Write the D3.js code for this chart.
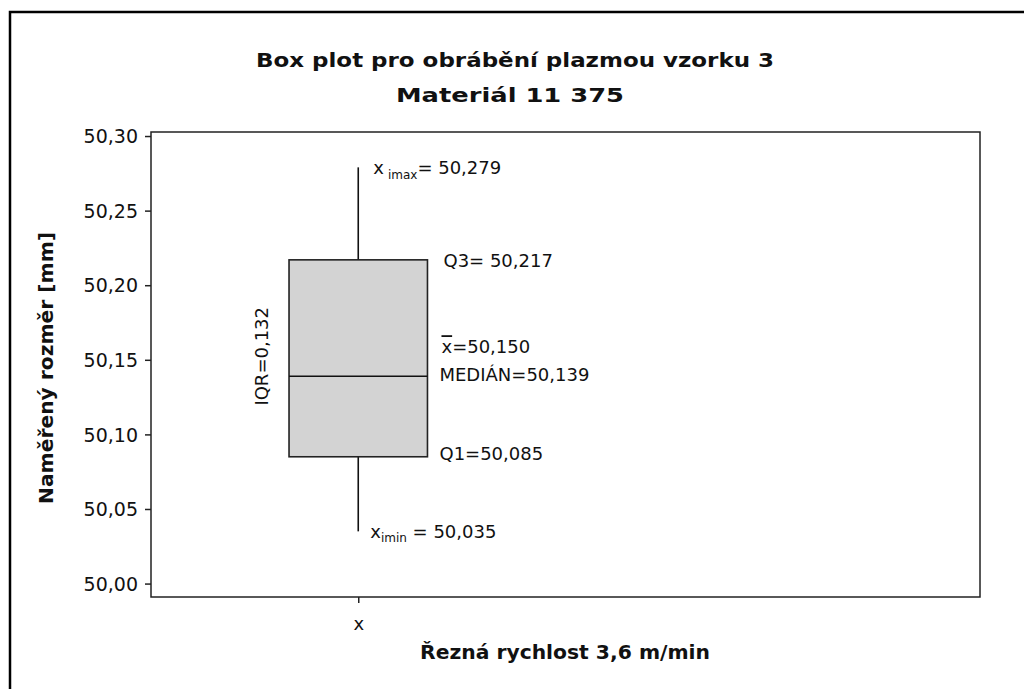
<!DOCTYPE html>
<html>
<head>
<meta charset="utf-8">
<style>
  body { margin: 0; background: #fff; }
  svg text { font-family: "DejaVu Sans", Tahoma, sans-serif; fill: #111; }
</style>
<script src="https://d3js.org/d3.v7.min.js"></script>
</head>
<body>
<svg id="chart" width="1024" height="689"></svg>
<script>
// data
var categories = ["x"];
var xmin = [50.035];
var q1 = [50.085];
var median = [50.139];
var mean = [50.150];
var q3 = [50.217];
var xmax = [50.279];
var yTicks = [50.00, 50.05, 50.10, 50.15, 50.20, 50.25, 50.30];

var title1 = "Box plot pro obrábění plazmou vzorku 3";
var title2 = "Materiál 11 375";
var yTitle = "Naměřený rozměr [mm]";
var xTitle = "Řezná rychlost 3,6 m/min";

var fmt = function(v, d) { return v.toFixed(d).replace(".", ","); };

var svg = d3.select("#chart");

// outer frame (runs off the right/bottom edge like the screenshot)
svg.append("rect")
  .attr("x", 10).attr("y", 12)
  .attr("width", 1030).attr("height", 700)
  .attr("fill", "none").attr("stroke", "#000").attr("stroke-width", 2.5);

var mLeft = 151, mRight = 980, mTop = 132, mBottom = 597;

var y = d3.scaleLinear().domain([49.991, 50.3027]).range([mBottom, mTop]);
var x = d3.scaleLinear().domain([0.5, 2.5]).range([mLeft, mRight]);
var boxHalf = 0.167;

// titles
svg.append("text").attr("x", 515).attr("y", 67)
  .attr("text-anchor", "middle").attr("font-size", 20).attr("font-weight", "bold")
  .attr("textLength", 518).attr("lengthAdjust", "spacingAndGlyphs")
  .text(title1);
svg.append("text").attr("x", 510).attr("y", 102)
  .attr("text-anchor", "middle").attr("font-size", 20).attr("font-weight", "bold")
  .attr("textLength", 228).attr("lengthAdjust", "spacingAndGlyphs")
  .text(title2);

// plot frame
svg.append("rect")
  .attr("x", mLeft).attr("y", mTop)
  .attr("width", mRight - mLeft).attr("height", mBottom - mTop)
  .attr("fill", "none").attr("stroke", "#222").attr("stroke-width", 1.5);

// y axis
var yAxis = d3.axisLeft(y).tickValues(yTicks).tickSize(6).tickFormat(function(d) { return fmt(d, 2); });
var gy = svg.append("g").attr("transform", "translate(" + mLeft + ",0)").call(yAxis);
gy.select(".domain").remove();
gy.selectAll("line").attr("stroke", "#222").attr("stroke-width", 1.5);
gy.selectAll("text").attr("font-size", 19).attr("font-family", "DejaVu Sans, sans-serif")
  .attr("fill", "#222").attr("x", -13).attr("dy", "0.35em");

// x axis
var xAxis = d3.axisBottom(x).tickValues([1]).tickSize(6).tickFormat(function(d, i) { return categories[i]; });
var gx = svg.append("g").attr("transform", "translate(0," + mBottom + ")").call(xAxis);
gx.select(".domain").remove();
gx.selectAll("line").attr("stroke", "#222").attr("stroke-width", 1.5);
gx.selectAll("text").attr("font-size", 18).attr("font-family", "DejaVu Sans, sans-serif")
  .attr("fill", "#222").attr("y", 20);

// axis titles
svg.append("text")
  .attr("transform", "translate(53," + 368 + ") rotate(-90)")
  .attr("text-anchor", "middle").attr("font-size", 20).attr("font-weight", "bold")
  .attr("textLength", 272).attr("lengthAdjust", "spacingAndGlyphs")
  .text(yTitle);
svg.append("text").attr("x", 565).attr("y", 659)
  .attr("text-anchor", "middle").attr("font-size", 20).attr("font-weight", "bold")
  .attr("textLength", 290).attr("lengthAdjust", "spacingAndGlyphs")
  .text(xTitle);

// box plot
var g = svg.append("g");
categories.forEach(function(c, i) {
  var cx = x(i + 1);
  g.append("line").attr("x1", cx).attr("x2", cx)
    .attr("y1", y(xmax[i])).attr("y2", y(q3[i]))
    .attr("stroke", "#111").attr("stroke-width", 1.6);
  g.append("line").attr("x1", cx).attr("x2", cx)
    .attr("y1", y(q1[i])).attr("y2", y(xmin[i]))
    .attr("stroke", "#111").attr("stroke-width", 1.6);
  g.append("rect")
    .attr("x", x(i + 1 - boxHalf)).attr("y", y(q3[i]))
    .attr("width", x(i + 1 + boxHalf) - x(i + 1 - boxHalf))
    .attr("height", y(q1[i]) - y(q3[i]))
    .attr("fill", "#d3d3d3").attr("stroke", "#222").attr("stroke-width", 1.6);
  g.append("line")
    .attr("x1", x(i + 1 - boxHalf)).attr("x2", x(i + 1 + boxHalf))
    .attr("y1", y(median[i])).attr("y2", y(median[i]))
    .attr("stroke", "#111").attr("stroke-width", 1.6);

  var rx = x(i + 1 + boxHalf);
  var fs = 18;

  // xmax
  var t = g.append("text").attr("x", cx + 15).attr("y", y(xmax[i]) + 7).attr("font-size", fs);
  t.append("tspan").text("x");
  t.append("tspan").attr("dx", 4).attr("dy", 5).attr("font-size", 12).text("imax");
  t.append("tspan").attr("dy", -5).text("= " + fmt(xmax[i], 3));

  // Q3
  g.append("text").attr("x", rx + 16).attr("y", y(q3[i]) + 7).attr("font-size", fs)
    .text("Q3= " + fmt(q3[i], 3));

  // mean
  var tm = g.append("text").attr("x", rx + 14).attr("y", y(median[i]) - 23).attr("font-size", fs);
  tm.append("tspan").attr("text-decoration", "overline").text("x");
  tm.append("tspan").text("=" + fmt(mean[i], 3));

  // median
  g.append("text").attr("x", rx + 12).attr("y", y(median[i]) + 5).attr("font-size", fs)
    .text("MEDIÁN=" + fmt(median[i], 3));

  // Q1
  g.append("text").attr("x", rx + 12).attr("y", y(q1[i]) + 3).attr("font-size", fs)
    .text("Q1=" + fmt(q1[i], 3));

  // xmin
  var tn = g.append("text").attr("x", cx + 12).attr("y", y(xmin[i]) + 7).attr("font-size", fs);
  tn.append("tspan").text("x");
  tn.append("tspan").attr("dy", 4).attr("font-size", 12).text("imin");
  tn.append("tspan").attr("dy", -4).text(" = " + fmt(xmin[i], 3));

  // IQR
  g.append("text")
    .attr("transform", "translate(" + (x(i + 1 - boxHalf) - 21) + "," + ((y(q3[i]) + y(q1[i])) / 2 - 2) + ") rotate(-90)")
    .attr("text-anchor", "middle").attr("font-size", fs).attr("fill", "#6a5840")
    .text("IQR=" + fmt(q3[i] - q1[i], 3));
});
</script>
</body>
</html>
